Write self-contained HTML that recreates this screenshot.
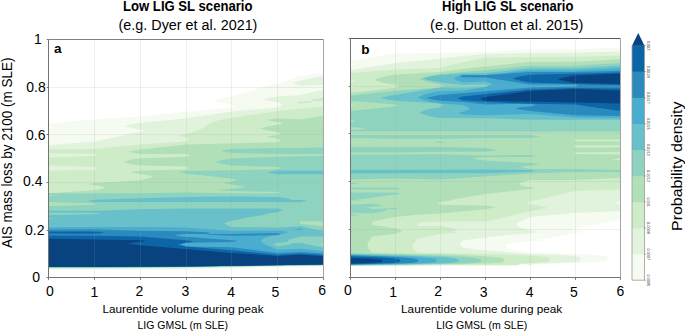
<!DOCTYPE html><html><head><meta charset="utf-8"><style>html,body{margin:0;padding:0;background:#fff;overflow:hidden}svg{display:block}</style></head><body>
<svg width="685" height="331" viewBox="0 0 685 331" font-family='"Liberation Sans", sans-serif' fill="#000">
<path fill="#f5fbf0" fill-rule="evenodd" d="M300.6 75.9L323.5 72.8L323.5 266.6L277.7 267.2L186.0 269.5L94.3 270.0L48.5 270.0L48.5 129.2L55.3 127.7L52.2 126.9L48.5 126.3L48.5 123.4L94.3 119.4L140.2 116.6L186.0 111.8L231.8 107.4L234.7 105.9L231.8 104.5L226.1 103.6L221.0 102.6L216.4 101.4L213.6 100.4L217.4 99.2L221.5 98.2L231.8 96.5L253.7 90.5L258.7 88.2L264.4 86.4L270.3 85.1L277.7 84.0L294.5 78.0L297.4 76.8Z"/><path fill="#e2f3dd" fill-rule="evenodd" d="M300.6 80.5L323.5 75.9L323.5 84.9L300.6 85.8L296.6 84.5L293.6 83.1L296.6 81.7ZM300.6 94.9L323.5 89.4L323.5 266.0L277.7 266.6L186.0 268.5L94.3 269.0L48.5 269.0L48.5 145.2L94.3 141.6L122.7 135.6L130.5 133.5L140.2 132.0L144.3 130.7L140.2 129.5L131.2 128.0L124.1 126.2L129.2 124.8L135.1 123.7L140.2 123.0L186.0 118.3L231.8 111.5L277.7 107.4L282.3 104.8L280.4 103.4L277.7 102.3L269.0 100.8L264.8 99.9L262.9 99.3L269.4 97.8L277.7 96.5Z"/><path fill="#cfecc8" fill-rule="evenodd" d="M312.4 99.3L323.5 97.6L323.5 101.2L312.0 101.1L312.0 99.4ZM300.4 101.2L312.0 101.2L312.0 102.5L300.6 104.0L296.4 102.6ZM300.6 108.5L323.5 106.6L323.5 265.4L186.0 267.8L94.3 268.3L48.5 268.3L48.5 170.6L94.3 170.0L96.9 168.4L94.3 167.0L48.5 165.6L48.5 157.6L94.3 156.1L98.5 155.0L94.3 154.0L48.5 153.2L48.5 149.6L94.3 148.9L140.2 144.5L186.0 141.6L190.2 139.4L186.0 137.3L177.1 135.8L186.0 134.4L202.6 128.4L206.0 125.7L209.6 123.6L213.9 121.8L218.9 120.3L227.7 118.5L277.7 111.0Z"/><path fill="#b1e0b8" fill-rule="evenodd" d="M300.6 119.3L323.5 115.7L323.5 265.4L277.7 265.5L186.0 267.1L94.3 267.5L48.5 267.5L48.5 193.2L94.3 190.3L105.6 187.7L103.0 186.8L99.8 186.1L87.0 184.1L94.3 183.0L140.2 180.2L153.4 177.0L150.5 175.8L147.0 174.9L136.3 173.4L130.3 172.3L134.2 171.4L140.2 170.6L186.0 169.5L188.6 167.9L186.0 166.5L140.2 165.6L130.5 164.0L122.8 161.9L130.5 159.8L140.2 158.3L186.0 156.8L190.7 155.3L186.0 154.0L140.2 154.0L132.8 152.8L128.1 151.7L133.8 150.5L140.2 149.6L186.0 144.5L277.7 142.3L280.7 140.4L277.7 138.7L272.6 138.0L266.9 136.8L272.0 135.8L277.7 135.0L280.9 133.5L277.7 132.2L267.6 130.5L263.0 129.3L260.3 128.4L267.1 126.5L277.7 124.8L283.4 123.3L280.0 122.3L272.6 121.2L266.9 120.1L272.0 119.1L277.7 118.3Z"/><path fill="#8ed3bf" fill-rule="evenodd" d="M231.8 149.0L323.5 147.4L323.5 154.0L277.7 154.0L231.8 153.0L225.9 152.1L220.6 151.0L225.0 150.0ZM277.7 156.8L323.5 156.1L323.5 202.7L322.1 203.3L323.5 204.1L323.5 221.5L300.6 221.0L299.5 222.4L300.6 224.0L323.5 226.2L323.5 242.2L321.6 244.0L323.5 245.9L323.5 264.9L277.7 265.5L186.0 267.1L94.3 267.5L48.5 267.5L48.5 206.3L94.3 204.8L96.9 204.0L94.3 203.4L48.5 202.0L48.5 196.6L58.6 195.8L48.5 195.1L48.5 193.2L140.2 193.2L186.0 192.5L231.8 193.2L277.7 193.2L280.4 192.4L277.7 191.8L231.8 191.0L223.6 190.5L218.5 189.9L238.1 188.3L242.4 187.6L245.5 186.7L222.9 183.0L231.8 181.6L237.2 180.1L232.3 178.7L191.0 173.9L186.0 173.5L178.1 172.2L186.0 171.0L231.8 170.3L277.7 169.2L281.4 168.0L277.7 167.0L231.8 165.5L221.9 163.8L217.4 162.7L215.1 161.9L222.4 160.0L231.8 158.5Z"/><path fill="#68c1ca" fill-rule="evenodd" d="M277.3 170.6L323.5 170.6L323.5 174.3L277.7 174.3L272.0 173.4L266.9 172.4ZM227.2 196.4L277.7 196.9L285.5 198.1L291.7 199.5L290.2 199.9L306.6 200.0L303.8 201.2L300.6 202.2L231.8 202.0L94.3 202.0L87.5 200.9L94.3 199.8L140.2 198.3L186.0 196.9ZM186.0 208.5L277.7 208.4L283.1 210.2L281.1 211.1L277.7 212.2L270.3 213.0L267.6 213.6L265.2 214.4L244.8 218.1L238.7 219.4L231.8 220.5L227.4 221.9L223.9 223.6L231.8 226.9L277.7 227.5L300.6 226.2L323.5 231.0L323.5 236.5L300.6 236.5L288.6 239.7L288.0 241.3L287.4 241.8L286.7 242.1L283.6 242.5L277.7 242.7L273.3 244.5L277.7 246.5L289.8 244.6L290.1 244.5L291.0 243.7L292.6 243.3L300.6 243.0L323.5 247.5L323.5 264.9L277.7 265.5L186.0 267.1L94.3 267.5L48.5 267.5L48.5 219.3L54.6 218.5L48.5 217.9L48.5 214.9L94.3 214.3L101.1 213.5L94.3 212.8L48.5 212.6L48.5 210.8L94.3 210.7L140.2 209.2Z"/><path fill="#49add0" fill-rule="evenodd" d="M48.5 227.2L140.2 227.1L186.0 227.5L231.8 230.7L277.7 230.7L284.1 231.1L286.3 231.7L287.5 232.8L277.7 235.1L271.8 235.8L267.5 236.8L265.4 237.6L263.5 238.6L261.9 239.9L260.9 241.1L263.3 243.7L277.7 249.7L300.6 248.7L323.5 251.0L323.5 264.9L277.7 265.1L186.0 266.6L94.3 267.0L48.5 267.0ZM292.8 229.2L300.6 228.5L303.1 229.2L300.6 230.0L295.5 229.7Z"/><path fill="#2a8abe" fill-rule="evenodd" d="M48.5 229.5L94.3 229.3L140.2 230.7L186.0 231.3L208.9 232.6L208.9 233.8L208.5 233.9L186.0 233.9L179.4 234.5L174.7 235.4L186.0 237.0L194.7 237.3L201.0 238.0L231.8 240.2L238.1 241.1L231.8 242.1L186.0 242.7L180.6 244.5L186.0 246.5L231.8 247.2L277.7 252.9L300.6 252.0L323.5 253.5L323.5 264.5L186.0 266.6L94.3 267.0L48.5 267.0ZM231.8 233.9L277.7 233.2L280.8 234.1L277.7 235.1L231.8 235.8L208.9 234.8L208.9 233.9L209.4 233.9Z"/><path fill="#0c65a7" fill-rule="evenodd" d="M48.5 231.6L94.3 231.5L104.4 232.6L100.1 233.2L94.3 233.7L48.5 233.4ZM48.5 235.5L94.3 235.8L140.2 236.4L186.0 240.2L193.9 241.4L182.6 243.2L177.5 244.5L186.0 246.5L231.8 250.3L277.7 254.8L300.6 253.5L323.5 255.0L323.5 264.5L186.0 266.6L94.3 267.0L48.5 267.0Z"/><path fill="#08427f" fill-rule="evenodd" d="M48.5 238.8L140.2 240.2L146.4 241.1L140.2 242.1L132.4 242.7L127.7 243.6L140.2 245.3L231.8 252.9L277.7 256.0L300.6 254.8L323.5 256.3L323.5 264.5L186.0 266.6L94.3 267.0L48.5 267.0Z"/><path fill="#f5fbf0" fill-rule="evenodd" d="M575.2 49.0L620.2 47.7L620.2 220.0L587.6 225.9L581.9 227.1L575.2 228.2L571.5 229.2L575.2 230.3L584.0 231.7L536.9 239.9L551.6 240.0L530.2 241.0L507.7 243.5L505.3 246.0L507.7 248.5L530.2 253.5L534.7 252.7L548.2 253.0L570.7 253.7L588.7 254.5L602.2 255.5L606.7 256.2L608.0 258.6L606.7 261.1L593.2 262.3L575.2 263.1L534.7 264.2L530.2 266.1L525.7 264.4L521.2 264.4L516.7 266.1L368.3 266.1L350.3 266.3L350.3 65.8L355.3 64.3L350.3 63.0L350.3 60.7L395.3 53.5L462.8 52.5L485.2 52.0L530.2 49.5Z"/><path fill="#e2f3dd" fill-rule="evenodd" d="M575.2 52.8L620.2 51.6L620.2 201.2L614.6 202.6L620.2 204.1L620.2 211.3L575.2 212.8L530.2 217.1L517.0 223.0L516.1 224.3L517.5 225.6L519.1 226.8L521.0 227.8L523.4 228.7L528.2 229.9L539.0 231.7L530.2 233.2L507.7 235.0L485.2 237.4L462.8 240.5L459.7 243.9L460.9 245.7L462.8 247.5L485.2 250.5L513.6 252.4L516.9 252.5L521.2 253.6L543.7 254.3L561.7 255.1L571.6 255.7L579.7 256.7L581.0 259.0L579.7 261.4L570.7 262.3L561.7 262.8L534.7 263.8L530.2 265.1L525.7 264.0L521.2 264.1L516.7 265.6L426.8 265.6L350.3 266.1L350.3 70.2L395.3 62.9L440.3 58.6L462.8 56.0L485.2 54.0L530.2 53.0Z"/><path fill="#cfecc8" fill-rule="evenodd" d="M575.2 56.7L620.2 55.4L620.2 189.6L575.2 191.0L549.0 196.9L545.1 198.2L540.8 199.3L535.8 200.3L530.2 201.2L527.0 202.6L530.2 204.1L540.1 205.7L544.6 206.9L547.0 207.7L540.4 209.5L530.2 211.3L504.0 217.2L497.4 219.2L489.6 220.8L485.2 221.5L440.3 221.5L417.8 222.7L416.9 224.3L417.8 226.0L440.3 226.0L443.4 226.3L447.0 226.9L452.0 228.1L458.1 229.9L455.8 230.8L451.7 231.9L462.2 232.0L440.3 234.0L417.8 238.5L412.8 244.4L412.4 246.4L413.3 248.2L414.6 249.9L416.1 251.3L417.8 252.5L462.8 253.4L507.7 254.7L525.7 255.4L539.2 256.2L548.2 257.2L549.5 259.4L548.2 261.8L543.7 262.3L534.7 262.9L521.2 263.5L516.7 265.1L426.8 265.1L404.3 265.5L350.3 265.8L350.3 87.8L352.9 86.6L350.3 85.6L350.3 82.5L355.3 81.0L350.3 79.6L350.3 73.1L395.3 69.4L440.3 68.0L462.8 62.0L485.2 57.8L530.2 57.0Z"/><path fill="#b1e0b8" fill-rule="evenodd" d="M575.2 61.8L620.2 59.3L620.2 139.4L575.2 139.4L574.1 140.5L575.2 141.6L620.2 141.6L620.2 145.2L575.2 145.2L573.9 146.3L575.2 147.4L620.2 147.4L620.2 151.7L575.2 152.5L574.1 153.2L575.2 153.9L620.2 154.6L620.2 158.3L612.9 159.3L620.2 160.4L620.2 178.0L575.2 180.0L530.2 180.0L518.4 183.7L521.1 185.1L524.4 186.2L528.4 187.1L535.2 188.1L530.2 188.9L485.2 194.0L452.5 199.7L450.3 200.4L447.5 201.0L440.3 201.9L437.7 203.3L440.3 204.8L485.2 205.5L490.8 206.3L495.9 207.3L490.8 208.3L485.2 209.2L440.3 213.6L417.8 214.7L395.3 217.0L372.8 221.5L371.9 223.2L372.8 225.0L395.3 228.3L399.3 229.6L402.5 231.1L399.3 232.6L395.3 234.0L372.8 236.3L368.2 242.2L367.4 246.6L368.3 248.3L369.4 249.9L370.7 251.2L372.4 252.4L363.8 252.5L440.3 254.3L471.8 255.5L489.7 256.6L498.7 257.5L503.2 258.3L504.3 260.2L503.2 262.2L498.7 262.7L489.7 263.3L467.7 263.9L404.3 265.1L350.3 265.6L350.3 106.6L353.8 105.1L350.3 103.7L350.3 92.9L395.3 87.8L399.4 86.3L395.3 84.9L388.1 83.7L382.2 82.4L378.2 81.2L374.5 79.7L378.0 78.2L383.0 76.7L388.6 75.5L395.3 74.5L440.3 72.0L462.8 69.0L530.2 61.8Z"/><path fill="#8ed3bf" fill-rule="evenodd" d="M575.2 65.7L620.2 63.1L620.2 131.4L575.2 131.4L530.2 131.7L485.2 131.4L350.3 131.4L350.3 130.0L359.7 129.4L362.9 129.1L365.5 128.5L350.3 127.0L350.3 122.6L355.9 121.1L350.3 119.7L350.3 111.0L395.3 106.6L397.8 105.5L395.3 104.5L350.3 100.8L350.3 95.8L395.3 90.7L440.3 87.6L442.6 85.9L440.3 84.3L434.0 83.3L428.4 82.1L423.6 80.7L419.5 79.1L423.6 77.5L428.4 76.1L434.0 74.9L440.3 74.0L485.2 70.2L530.2 65.7ZM350.3 135.1L530.2 135.1L536.1 135.7L540.1 136.5L530.2 138.0L485.2 138.0L440.3 138.7L395.3 138.7L350.3 138.0ZM439.5 141.6L441.6 141.7L446.2 142.2L440.3 143.0L433.3 142.2ZM350.3 147.1L440.3 147.1L485.2 148.1L497.3 149.9L492.4 151.0L485.2 151.8L440.3 151.8L395.3 152.5L350.3 152.5ZM395.3 154.6L440.3 154.3L485.2 155.4L530.2 155.0L536.4 156.0L530.2 157.0L485.2 157.0L477.6 157.6L472.6 158.7L485.2 160.5L530.2 163.0L539.5 164.2L535.5 164.9L526.2 166.0L521.0 167.2L530.2 169.1L575.2 169.1L620.2 169.9L620.2 172.0L575.2 172.0L530.2 173.5L440.3 179.4L395.3 178.5L350.3 179.4L350.3 154.6ZM350.3 182.3L353.8 182.6L359.7 183.4L355.6 184.0L350.3 184.5ZM350.3 187.4L395.3 187.4L402.0 188.5L395.3 189.6L350.3 189.6ZM350.3 192.5L395.3 192.5L402.0 193.6L395.3 194.7L386.3 195.4L380.9 196.5L354.6 199.9L370.5 200.0L350.3 200.5ZM350.3 204.8L372.8 203.5L381.6 205.1L380.4 205.8L378.6 206.3L370.5 207.0L367.0 207.8L372.8 209.0L379.5 208.8L382.3 208.4L395.3 207.7L397.8 208.4L395.3 209.2L389.0 209.3L386.3 209.6L385.2 210.0L384.6 211.2L384.3 211.3L372.8 213.6L350.3 212.8ZM350.3 214.2L355.7 214.4L358.6 215.0L350.3 216.0ZM350.3 231.0L352.5 231.6L353.6 232.1L350.3 233.2ZM350.3 253.3L413.3 254.7L435.8 255.4L453.8 256.2L467.3 257.1L476.3 258.2L480.8 259.6L481.4 260.7L480.8 261.8L476.3 262.7L458.3 263.6L408.8 264.7L350.3 265.3Z"/><path fill="#68c1ca" fill-rule="evenodd" d="M575.2 68.2L620.2 65.7L620.2 119.7L530.2 119.7L485.2 118.2L440.3 118.0L433.6 116.9L428.0 115.7L423.2 114.3L419.1 112.6L422.7 111.0L427.7 109.5L433.5 108.2L440.3 107.2L443.1 105.3L440.3 103.5L395.3 100.8L387.2 99.4L380.8 97.9L384.0 97.0L389.7 95.8L440.3 87.6L462.8 87.6L485.2 87.0L488.2 85.7L485.2 84.5L462.8 84.9L440.3 82.5L430.6 80.8L426.5 79.8L423.0 78.7L430.4 76.6L439.9 75.0L462.8 73.5L485.2 73.1L530.2 68.2ZM395.3 169.9L485.2 169.4L530.2 170.0L535.8 170.9L530.2 171.8L485.2 173.2L350.3 173.2L350.3 169.9ZM350.3 254.1L404.3 255.4L435.8 256.7L445.7 257.3L453.8 258.3L458.3 259.7L458.9 260.7L458.3 261.8L453.8 262.6L449.3 263.0L435.8 263.6L395.3 264.5L350.3 265.0Z"/><path fill="#49add0" fill-rule="evenodd" d="M575.2 70.3L620.2 68.2L620.2 118.0L575.2 117.5L530.2 113.9L485.2 115.3L462.8 114.6L458.4 113.1L461.9 111.9L466.9 110.6L468.7 109.6L470.1 108.3L462.8 105.0L440.3 103.5L435.3 102.7L429.9 101.7L425.1 100.4L421.1 99.0L417.7 97.4L420.5 96.0L424.5 94.5L429.0 93.3L434.4 92.1L440.3 91.3L462.8 90.5L485.2 87.0L492.7 84.2L489.3 82.7L485.2 81.5L462.8 82.5L457.7 80.7L453.8 78.5L455.2 77.5L457.5 76.3L462.8 74.5L485.2 75.0L530.2 70.3ZM350.3 254.8L399.8 256.2L413.3 256.8L426.8 257.7L431.3 258.2L435.8 259.1L436.7 260.6L435.8 262.2L431.3 262.8L426.8 263.1L400.2 263.9L377.3 264.5L350.3 264.8Z"/><path fill="#2a8abe" fill-rule="evenodd" d="M575.2 72.1L620.2 70.8L620.2 116.0L575.2 115.3L530.2 111.0L515.4 108.7L517.6 108.0L520.8 107.3L530.2 106.6L535.9 105.1L530.2 103.7L485.2 104.4L462.8 102.0L440.3 100.7L432.5 99.4L426.1 97.9L432.0 96.4L440.3 95.1L530.2 87.5L575.2 86.6L577.9 85.5L575.2 84.6L530.2 84.6L485.2 77.4L462.8 77.2L459.7 76.2L462.8 75.2L485.2 75.0L530.2 72.1ZM350.3 255.3L381.8 256.3L404.3 257.5L413.3 258.5L417.8 259.8L418.4 260.8L417.8 261.8L413.3 262.7L404.3 263.3L390.8 263.8L350.3 264.6Z"/><path fill="#0c65a7" fill-rule="evenodd" d="M530.2 74.7L620.2 72.5L620.2 85.0L575.2 84.0L530.2 82.4L520.3 80.7L516.3 79.7L512.7 78.5L516.3 77.3L520.3 76.3ZM573.7 88.0L620.2 88.5L620.2 111.0L575.2 104.5L530.2 103.7L485.2 102.1L462.8 100.3L457.5 98.4L459.4 97.5L462.8 96.5L530.2 89.5ZM350.3 256.2L377.3 257.2L390.8 258.1L395.3 258.6L399.8 259.6L400.5 260.8L399.8 262.0L395.3 262.7L390.8 263.1L363.8 264.1L350.3 264.3Z"/><path fill="#08427f" fill-rule="evenodd" d="M575.2 75.5L620.2 73.4L620.2 84.0L575.2 83.0L565.5 81.3L561.4 80.3L557.9 79.2L561.4 78.1L565.5 77.1ZM574.0 89.1L620.2 90.5L620.2 103.5L575.2 102.4L485.2 100.7L479.9 98.8L485.2 97.0L530.2 91.0ZM350.3 257.9L368.3 258.6L377.3 259.2L381.8 259.9L382.5 260.9L381.8 262.0L377.3 262.5L363.8 263.1L350.3 263.4Z"/>
<path stroke="#a0a0a0" stroke-width="1" opacity="0.17" fill="none" d="M94.5 39.3V277.4M140.5 39.3V277.4M186.5 39.3V277.4M231.5 39.3V277.4M277.5 39.3V277.4M48.5 87.5H323.5M48.5 134.5H323.5M48.5 182.5H323.5M48.5 230.5H323.5M395.5 39.3V277.4M440.5 39.3V277.4M485.5 39.3V277.4M530.5 39.3V277.4M575.5 39.3V277.4M350.3 86.5H620.2M350.3 133.5H620.2M350.3 181.5H620.2M350.3 229.5H620.2"/>
<path d="M48.5 39.5V277.5H323.5" fill="none" stroke="#737373" stroke-width="1"/><path d="M48.5 39.5H323.5" fill="none" stroke="#808080" stroke-width="1"/><path d="M323.5 39.5V277.5" fill="none" stroke="#a6a6a6" stroke-width="1"/><path d="M48.5 277.5v2.3M94.5 277.5v2.3M140.5 277.5v2.3M186.5 277.5v2.3M231.5 277.5v2.3M277.5 277.5v2.3M323.5 277.5v2.3M48.5 277.5h-1.8M48.5 230.5h-1.8M48.5 182.5h-1.8M48.5 134.5h-1.8M48.5 87.5h-1.8M48.5 39.5h-1.8" stroke="#737373" stroke-width="1" fill="none"/><path d="M350.5 38.5V277.5H620.5" fill="none" stroke="#737373" stroke-width="1"/><path d="M350.5 38.5H620.5" fill="none" stroke="#5a5a5a" stroke-width="1"/><path d="M620.5 38.5V277.5" fill="none" stroke="#a6a6a6" stroke-width="1"/><path d="M350.5 277.5v2.3M395.5 277.5v2.3M440.5 277.5v2.3M485.5 277.5v2.3M530.5 277.5v2.3M575.5 277.5v2.3M620.5 277.5v2.3M350.5 277.5h-1.8M350.5 229.5h-1.8M350.5 181.5h-1.8M350.5 133.5h-1.8M350.5 86.5h-1.8M350.5 38.5h-1.8" stroke="#737373" stroke-width="1" fill="none"/>
<text x="123.0" y="10.8" font-size="14.2" text-anchor="start" font-weight="bold" textLength="129.5" lengthAdjust="spacingAndGlyphs" >Low LIG SL scenario</text>
<text x="118.6" y="29.7" font-size="14" text-anchor="start" textLength="138.8" lengthAdjust="spacingAndGlyphs" >(e.g. Dyer et al. 2021)</text>
<text x="442.1" y="10.8" font-size="14.2" text-anchor="start" font-weight="bold" textLength="131.3" lengthAdjust="spacingAndGlyphs" >High LIG SL scenario</text>
<text x="430.1" y="29.7" font-size="14" text-anchor="start" textLength="153.2" lengthAdjust="spacingAndGlyphs" >(e.g. Dutton et al. 2015)</text>
<text x="54.0" y="52.8" font-size="13.6" text-anchor="start" font-weight="bold" >a</text>
<text x="361.2" y="53.6" font-size="13.6" text-anchor="start" font-weight="bold" >b</text>
<text x="41.800000000000004" y="44.4" font-size="14" text-anchor="end" >1</text>
<text x="45.800000000000004" y="92.0" font-size="14" text-anchor="end" >0.8</text>
<text x="45.5" y="139.7" font-size="14" text-anchor="end" >0.6</text>
<text x="42.5" y="186.4" font-size="14" text-anchor="end" >0.4</text>
<text x="44.5" y="235.4" font-size="14" text-anchor="end" >0.2</text>
<text x="40.1" y="282.2" font-size="14" text-anchor="end" >0</text>
<text x="50.0" y="295.5" font-size="14" text-anchor="middle" >0</text>
<text x="94.5" y="296.7" font-size="14" text-anchor="middle" >1</text>
<text x="139.5" y="296.3" font-size="14" text-anchor="middle" >2</text>
<text x="185.5" y="296.4" font-size="14" text-anchor="middle" >3</text>
<text x="231.2" y="297" font-size="14" text-anchor="middle" >4</text>
<text x="275.3" y="296.6" font-size="14" text-anchor="middle" >5</text>
<text x="322.1" y="294.9" font-size="14" text-anchor="middle" >6</text>
<text x="347.9" y="295.3" font-size="14" text-anchor="middle" >0</text>
<text x="393.2" y="297" font-size="14" text-anchor="middle" >1</text>
<text x="438.2" y="296.4" font-size="14" text-anchor="middle" >2</text>
<text x="483.6" y="296.8" font-size="14" text-anchor="middle" >3</text>
<text x="529.6" y="297" font-size="14" text-anchor="middle" >4</text>
<text x="573.9" y="296.6" font-size="14" text-anchor="middle" >5</text>
<text x="620.5" y="295.8" font-size="14" text-anchor="middle" >6</text>
<text x="102.5" y="313" font-size="11.6" text-anchor="start" textLength="161" lengthAdjust="spacingAndGlyphs" >Laurentide volume during peak</text>
<text x="137.5" y="328.8" font-size="11.6" text-anchor="start" textLength="90.6" lengthAdjust="spacingAndGlyphs" >LIG GMSL (m SLE)</text>
<text x="401.1" y="313" font-size="11.6" text-anchor="start" textLength="161" lengthAdjust="spacingAndGlyphs" >Laurentide volume during peak</text>
<text x="436.2" y="328.8" font-size="11.6" text-anchor="start" textLength="91" lengthAdjust="spacingAndGlyphs" >LIG GMSL (m SLE)</text>
<text transform="translate(12.3,248) rotate(-90)" font-size="14" textLength="190.4" lengthAdjust="spacingAndGlyphs">AIS mass loss by 2100 (m SLE)</text>
<text transform="translate(681.5,231) rotate(-90)" font-size="13.8" textLength="129.5" lengthAdjust="spacingAndGlyphs">Probability density</text>
<rect x="632" y="254.12" width="12.5" height="26.38" fill="#f5fbf0"/><rect x="632" y="228.04" width="12.5" height="26.38" fill="#e2f3dd"/><rect x="632" y="201.97" width="12.5" height="26.38" fill="#cfecc8"/><rect x="632" y="175.89" width="12.5" height="26.38" fill="#b1e0b8"/><rect x="632" y="149.81" width="12.5" height="26.38" fill="#8ed3bf"/><rect x="632" y="123.73" width="12.5" height="26.38" fill="#68c1ca"/><rect x="632" y="97.66" width="12.5" height="26.38" fill="#49add0"/><rect x="632" y="71.58" width="12.5" height="26.38" fill="#2a8abe"/><rect x="632" y="45.50" width="12.5" height="26.38" fill="#0c65a7"/><path d="M632 45.8L638.25 33L644.5 45.8Z" fill="#08427f"/><path d="M632 45.5V280.2H644.5V45.5" fill="none" stroke="#9a9a9a" stroke-width="0.8"/><path d="M644.5 280.2h1.2" stroke="#555" stroke-width="0.6"/><text transform="translate(647.4,280.2) rotate(90)" font-size="3.9" fill="#333" text-anchor="middle">0.0005</text><path d="M644.5 254.1h1.2" stroke="#555" stroke-width="0.6"/><text transform="translate(647.4,254.1) rotate(90)" font-size="3.9" fill="#333" text-anchor="middle">0.0007</text><path d="M644.5 228.0h1.2" stroke="#555" stroke-width="0.6"/><text transform="translate(647.4,228.0) rotate(90)" font-size="3.9" fill="#333" text-anchor="middle">0.0008</text><path d="M644.5 202.0h1.2" stroke="#555" stroke-width="0.6"/><text transform="translate(647.4,202.0) rotate(90)" font-size="3.9" fill="#333" text-anchor="middle">0.001</text><path d="M644.5 175.9h1.2" stroke="#555" stroke-width="0.6"/><text transform="translate(647.4,175.9) rotate(90)" font-size="3.9" fill="#333" text-anchor="middle">0.0012</text><path d="M644.5 149.8h1.2" stroke="#555" stroke-width="0.6"/><text transform="translate(647.4,149.8) rotate(90)" font-size="3.9" fill="#333" text-anchor="middle">0.0013</text><path d="M644.5 123.7h1.2" stroke="#555" stroke-width="0.6"/><text transform="translate(647.4,123.7) rotate(90)" font-size="3.9" fill="#333" text-anchor="middle">0.0015</text><path d="M644.5 97.7h1.2" stroke="#555" stroke-width="0.6"/><text transform="translate(647.4,97.7) rotate(90)" font-size="3.9" fill="#333" text-anchor="middle">0.0017</text><path d="M644.5 71.6h1.2" stroke="#555" stroke-width="0.6"/><text transform="translate(647.4,71.6) rotate(90)" font-size="3.9" fill="#333" text-anchor="middle">0.0018</text><path d="M644.5 45.5h1.2" stroke="#555" stroke-width="0.6"/><text transform="translate(647.4,45.5) rotate(90)" font-size="3.9" fill="#333" text-anchor="middle">0.002</text>
</svg></body></html>
